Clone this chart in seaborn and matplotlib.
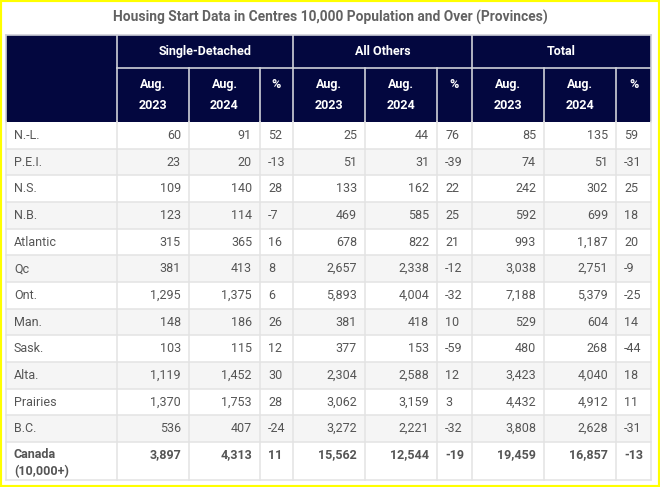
import numpy as np
import pandas as pd
import matplotlib.pyplot as plt
import seaborn as sns
from matplotlib.colors import ListedColormap
from matplotlib.patches import Rectangle

# dados da tabela
regioes = ['N.-L.', 'P.E.I.', 'N.S.', 'N.B.', 'Atlantic', 'Qc', 'Ont.', 'Man.',
           'Sask.', 'Alta.', 'Prairies', 'B.C.', 'Canada\n(10,000+)']
sd_2023 = [60, 23, 109, 123, 315, 381, 1295, 148, 103, 1119, 1370, 536, 3897]
sd_2024 = [91, 20, 140, 114, 365, 413, 1375, 186, 115, 1452, 1753, 407, 4313]
sd_pct = [52, -13, 28, -7, 16, 8, 6, 26, 12, 30, 28, -24, 11]
ot_2023 = [25, 51, 133, 469, 678, 2657, 5893, 381, 377, 2304, 3062, 3272, 15562]
ot_2024 = [44, 31, 162, 585, 822, 2338, 4004, 418, 153, 2588, 3159, 2221, 12544]
ot_pct = [76, -39, 22, 25, 21, -12, -32, 10, -59, 12, 3, -32, -19]
tot_2023 = [85, 74, 242, 592, 993, 3038, 7188, 529, 480, 3423, 4432, 3808, 19459]
tot_2024 = [135, 51, 302, 699, 1187, 2751, 5379, 604, 268, 4040, 4912, 2628, 16857]
tot_pct = [59, -31, 25, 18, 20, -9, -25, 14, -44, 18, 11, -31, -13]

grupos = ['Single-Detached', 'All Others', 'Total']
sub_cabecalho = ['Aug.\n2023', 'Aug.\n2024', '%']
titulo = 'Housing Start Data in Centres 10,000 Population and Over (Provinces)'

df = pd.DataFrame({'Region': regioes,
                   'sd_2023': sd_2023, 'sd_2024': sd_2024, 'sd_pct': sd_pct,
                   'ot_2023': ot_2023, 'ot_2024': ot_2024, 'ot_pct': ot_pct,
                   'tot_2023': tot_2023, 'tot_2024': tot_2024, 'tot_pct': tot_pct})

# layout em pixels
W, H = 660, 487
bordas_x = [6, 117, 189, 260, 293, 365, 437, 472, 544, 616, 651]
topo, meio_cab, fim_cab = 35, 68, 122
alt_linha = 26.67
n_normais = len(df) - 1
fim_normais = fim_cab + n_normais * alt_linha
fundo = 480
bordas_y = [fim_cab + i * alt_linha for i in range(n_normais + 1)] + [fundo]

azul = '#03073f'
cinza_txt = '#555555'
cinza_linha = '#e3e3e3'
pad = 8

plt.rcParams['font.family'] = ['Roboto', 'DejaVu Sans']

fig = plt.figure(figsize=(W / 100, H / 100), dpi=100)
fig.patch.set_facecolor('white')

# faixas alternadas (linhas zebradas) com heatmap do seaborn
hax = fig.add_axes([bordas_x[0] / W, 1 - fim_normais / H,
                    (bordas_x[-1] - bordas_x[0]) / W, (fim_normais - fim_cab) / H])
paridade = (np.arange(n_normais) % 2).reshape(-1, 1)
sns.heatmap(paridade, cmap=ListedColormap(['white', '#f5f5f5']), cbar=False,
            ax=hax, xticklabels=False, yticklabels=False, linewidths=0)
hax.set_axis_off()

ax = fig.add_axes([0, 0, 1, 1])
ax.set_xlim(0, W)
ax.set_ylim(H, 0)
ax.axis('off')
ax.patch.set_alpha(0)

# titulo
ax.text(W / 2, 17, titulo, ha='center', va='center', fontsize=9.9,
        fontweight='bold', color='#626262')

# cabecalho
ax.add_patch(Rectangle((bordas_x[0], topo), bordas_x[-1] - bordas_x[0], fim_cab - topo,
                       facecolor=azul, edgecolor='none', zorder=1))
lc = '#cfd0d8'
for i, x in enumerate(bordas_x):
    if i in (0, 1, 4, 7, 10):
        ax.plot([x, x], [topo, fim_cab], color=lc, lw=1.2, zorder=2)
    else:
        ax.plot([x, x], [meio_cab, fim_cab], color=lc, lw=1.2, zorder=2)
ax.plot([bordas_x[0], bordas_x[-1]], [topo, topo], color=lc, lw=1.2, zorder=2)
ax.plot([bordas_x[1], bordas_x[-1]], [meio_cab, meio_cab], color=lc, lw=1.2, zorder=2)

for g, nome in enumerate(grupos):
    x0 = bordas_x[1 + 3 * g]
    x1 = bordas_x[4 + 3 * g]
    ax.text((x0 + x1) / 2, (topo + meio_cab) / 2, nome, ha='center', va='center',
            color='white', fontsize=9, fontweight='bold', zorder=3)
    for s, sub in enumerate(sub_cabecalho):
        xa = bordas_x[1 + 3 * g + s]
        xb = bordas_x[2 + 3 * g + s]
        if sub == '%':
            ax.text((xa + xb) / 2, 85, sub, ha='center', va='center',
                    color='white', fontsize=9, fontweight='bold', zorder=3)
        else:
            ax.text((xa + xb) / 2, 95, sub, ha='center', va='center', color='white',
                    fontsize=9, fontweight='bold', linespacing=1.75, zorder=3)

# linhas do corpo
for x in bordas_x:
    ax.plot([x, x], [fim_cab, fundo], color=cinza_linha, lw=1.1, zorder=2)
for y in bordas_y[1:]:
    ax.plot([bordas_x[0], bordas_x[-1]], [y, y], color=cinza_linha, lw=1.1, zorder=2)

# valores
colunas = ['sd_2023', 'sd_2024', 'sd_pct', 'ot_2023', 'ot_2024', 'ot_pct',
           'tot_2023', 'tot_2024', 'tot_pct']
for r, row in df.iterrows():
    ultimo = r == len(df) - 1
    peso = 'bold' if ultimo else 'normal'
    if ultimo:
        yc = bordas_y[r] + 13
        ax.text(bordas_x[0] + pad, bordas_y[r] + 21, row['Region'], ha='left',
                va='center', fontsize=9, fontweight=peso, color=cinza_txt,
                linespacing=1.3, zorder=3)
    else:
        yc = (bordas_y[r] + bordas_y[r + 1]) / 2
        ax.text(bordas_x[0] + pad, yc, row['Region'], ha='left', va='center',
                fontsize=9, color=cinza_txt, zorder=3)
    for c, col in enumerate(colunas):
        v = row[col]
        if col.endswith('pct'):
            ax.text(bordas_x[c + 1] + pad, yc, f'{v}', ha='left', va='center',
                    fontsize=9, fontweight=peso, color=cinza_txt, zorder=3)
        else:
            ax.text(bordas_x[c + 2] - pad, yc, f'{v:,}', ha='right', va='center',
                    fontsize=9, fontweight=peso, color=cinza_txt, zorder=3)

# moldura amarela
fig.add_artist(Rectangle((0, 0), 1, 1, transform=fig.transFigure, fill=False,
                         edgecolor='#ffff00', linewidth=3))

plt.savefig('out.png', dpi=100)
